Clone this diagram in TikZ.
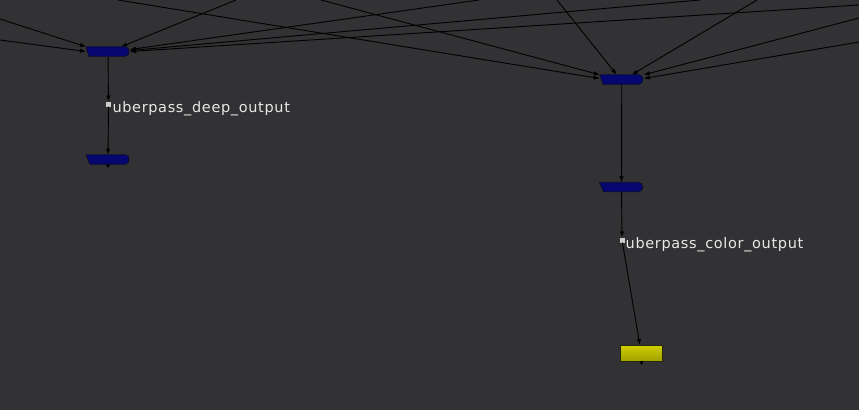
\documentclass[tikz,border=0pt]{standalone}
\usepackage{fontspec}
\newfontfamily\labfont[LetterSpace=4.5]{DejaVu Sans}
\usetikzlibrary{arrows.meta}
\definecolor{bg}{RGB}{50,50,52}
\definecolor{nodeblue}{RGB}{6,6,112}
\definecolor{nodeedge}{RGB}{14,14,44}
\definecolor{yeltop}{RGB}{208,208,0}
\definecolor{yelbot}{RGB}{160,160,0}
\definecolor{yeledge}{RGB}{40,40,10}
\definecolor{labgray}{RGB}{232,232,232}
\definecolor{dotgray}{RGB}{205,205,205}
\tikzset{
  nk/.style={minimum width=44pt, minimum height=9.5pt, inner sep=0pt, outer sep=0pt},
  bodyfill/.style={fill=nodeblue, draw=nodeedge, line width=0.8pt},
  wr/.style={minimum width=42.5pt, minimum height=16pt, inner sep=0pt, outer sep=0pt,
    draw=yeledge, line width=0.8pt, top color=yeltop, bottom color=yelbot},
  pipe/.style={fill=dotgray, minimum size=5pt, inner sep=0pt, outer sep=0pt},
  lab/.style={text=labgray, font=\labfont\fontsize{14.5}{17}\selectfont, inner sep=0pt, anchor=base west},
  arr/.style={draw=black, line width=0.9pt, -{Latex[length=6pt,width=4.5pt]}},
  stub/.style={draw=black, line width=0.9pt, -{Latex[length=4pt,width=4.5pt]}},
}
\newcommand\nukebody[2]{%
  \filldraw[bodyfill] (#1.north west) -- ([xshift=-5pt]#1.north east)
    .. controls ([xshift=0.5pt]#1.north east) and ([xshift=0.5pt]#1.south east) .. ([xshift=-5pt]#1.south east)
    -- ([xshift=#2]#1.south west) -- cycle;
}
\begin{document}
\begin{tikzpicture}[x=1pt,y=-1pt]
\fill[bg] (0,0) rectangle (859,410);
\useasboundingbox (0,0) rectangle (859,410);

% nodes
\node[nk] (D1) at (108,51.5) {};
\node[pipe] (P1) at (108.5,104) {};
\node[nk] (D2) at (108,159.5) {};
\node[nk] (C1) at (621.75,79.5) {};
\node[nk] (C2) at (621.5,187) {};
\node[pipe] (P2) at (622,240) {};
\node[wr] (W) at (641.25,353) {};
\node[lab] (L1) at (112.3,112.3) {uberpass\_deep\_output};
\node[lab] (L2) at (625.5,248.3) {uberpass\_color\_output};

% free ends of incoming connectors
\coordinate (a1) at (0,19);
\coordinate (a2) at (0,40);
\coordinate (a3) at (236,0);
\coordinate (a4) at (479,0);
\coordinate (a5) at (700,0);
\coordinate (a6) at (859,5);
\coordinate (b1) at (557,0);
\coordinate (b2) at (757,0);
\coordinate (b3) at (859,18);
\coordinate (b4) at (859,42);
\coordinate (b5) at (321,0);
\coordinate (b6) at (118,0);
\coordinate (D2o) at (108,168.5);
\coordinate (Wo) at (642,365.5);

% incoming connectors
\draw[arr] (a1) -- (D1.north west);
\draw[arr] (a2) -- (D1.west);
\draw[arr] (a3) -- ([xshift=13pt]D1.north);
\draw[arr] (a4) -- ([yshift=2pt]D1.east);
\draw[arr] (a5) -- ([yshift=1pt]D1.east);
\draw[arr] (a6) -- (D1.east);
\draw[arr] (b1) -- ([xshift=-5pt]C1.north);
\draw[arr] (b2) -- ([xshift=10pt]C1.north);
\draw[arr] (b3) -- (C1.north east);
\draw[arr] (b4) -- ([yshift=1pt]C1.east);
\draw[arr] (b5) -- (C1.north west);
\draw[arr] (b6) -- ([yshift=1pt]C1.west);

% chains
\draw[arr] (D1) -- (P1);
\draw[arr] (P1) -- (D2);
\draw[arr] (C1) -- (C2);
\draw[arr] (C2) -- (P2);
\draw[arr] (P2) -- (W);

% node bodies
\nukebody{D1}{3pt}
\nukebody{D2}{4pt}
\nukebody{C1}{3.3pt}
\nukebody{C2}{4pt}

% output stubs
\draw[stub] (D2.south) -- (D2o);
\draw[stub] (W.south) -- (Wo);
\end{tikzpicture}
\end{document}
